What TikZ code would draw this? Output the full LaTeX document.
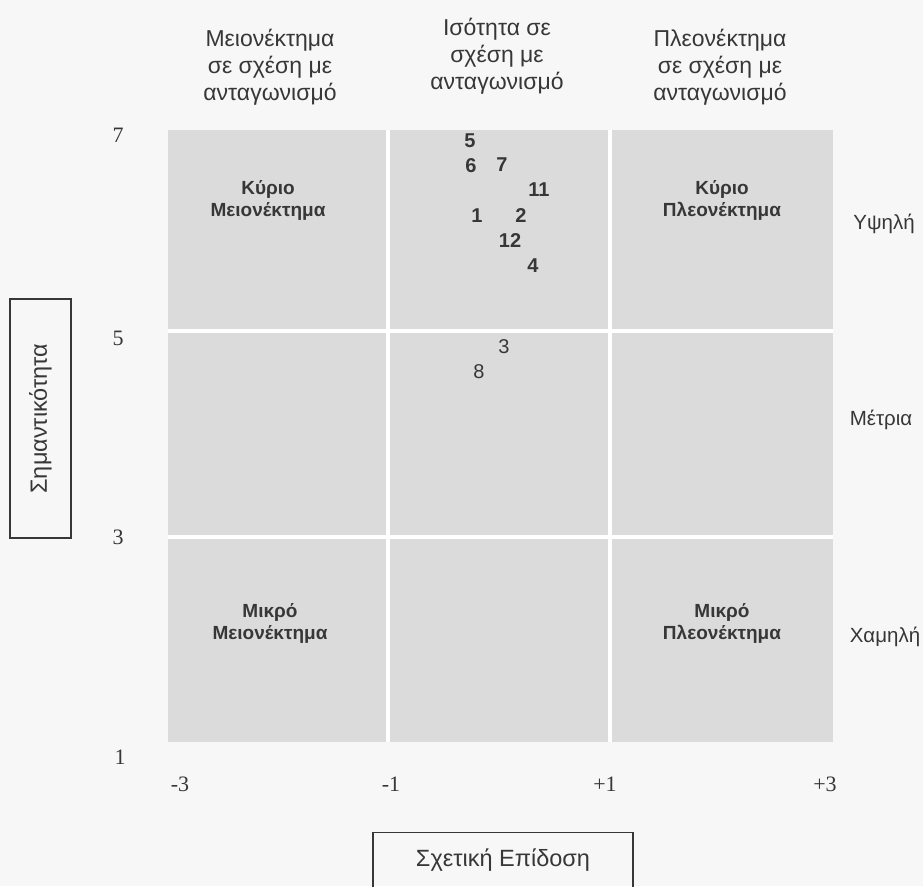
\documentclass[tikz,border=0pt]{standalone}
\usepackage{fontspec}
\setmainfont{Liberation Sans}
\newfontfamily\tickfont{Liberation Serif}
\usetikzlibrary{positioning}
\definecolor{cellgray}{RGB}{219,219,219}
\definecolor{inkgray}{RGB}{55,55,55}

\begin{document}
\begin{tikzpicture}[x=1pt,y=-1pt,
  every node/.style={text=inkgray,inner sep=0pt},
  head/.style={align=center,font=\fontsize{23}{27}\selectfont},
  zone/.style={align=center,font=\fontsize{19}{22}\selectfont\bfseries},
  level/.style={font=\fontsize{20.5}{25}\selectfont},
  tick/.style={font=\tickfont\fontsize{22}{26}\selectfont},
  item/.style={font=\fontsize{20}{22}\selectfont\bfseries},
  itemlight/.style={font=\fontsize{20}{22}\selectfont},
  axisbox/.style={draw=inkgray,line width=1.1pt,font=\fontsize{23.5}{26}\selectfont}
]
  \useasboundingbox[fill=black!3] (0,0) rectangle (923,886);

  % grid of the nine zones
  \fill[cellgray] (168,130) rectangle (833,742);
  \foreach \xl in {388,610}
    \draw[white,line width=4pt] (\xl,130) -- (\xl,742);
  \foreach \yl in {331,537}
    \draw[white,line width=4pt] (168,\yl) -- (833,\yl);

  % column heads
  \node[head] (hlow) at (270,67) {Μειονέκτημα\\σε σχέση με\\ανταγωνισμό};
  \node[head] (hmid) at (497,56) {Ισότητα σε\\σχέση με\\ανταγωνισμό};
  \node[head] (hhigh) at (720,67) {Πλεονέκτημα\\σε σχέση με\\ανταγωνισμό};

  % zone names
  \node[zone] (majdis) at (268,200) {Κύριο\\Μειονέκτημα};
  \node[zone] (majadv) at (722,200) {Κύριο\\Πλεονέκτημα};
  \node[zone] (mindis) at (270,623) {Μικρό\\Μειονέκτημα};
  \node[zone] (minadv) at (722,623) {Μικρό\\Πλεονέκτημα};

  % importance levels
  \node[level] (high) at (884,224) {Υψηλή};
  \node[level] (medium) at (881,420) {Μέτρια};
  \node[level] (low) at (885,637) {Χαμηλή};

  % scale ticks
  \node[tick] (y7) at (118,135) {7};
  \node[tick] (y5) at (118,338) {5};
  \node[tick] (y3) at (118,537) {3};
  \node[tick] (y1) at (120,757) {1};
  \node[tick] (xm3) at (180,784) {-3};
  \node[tick] (xm1) at (391,784) {-1};
  \node[tick] (xp1) at (605,784) {+1};
  \node[tick] (xp3) at (825,784) {+3};

  % rated items
  \node[item] (n5) at (470,141) {5};
  \node[item] (n6) at (471,166) {6};
  \node[item] (n7) at (502,165) {7};
  \node[item] (n11) at (539,190) {11};
  \node[item] (n1) at (477,216) {1};
  \node[item] (n2) at (521,216) {2};
  \node[item] (n12) at (510,241) {12};
  \node[item] (n4) at (533,266) {4};
  \node[itemlight] (n3) at (504,347) {3};
  \node[itemlight] (n8) at (479,372) {8};

  % axis titles
  \node[axisbox,rotate=90,minimum width=239pt,minimum height=61pt]
    (importance) at (40.5,418.5) {Σημαντικότητα};
  \node[axisbox,anchor=north,minimum width=260pt,minimum height=62pt,text depth=12pt]
    (performance) at (503,832) {Σχετική Επίδοση};
\end{tikzpicture}
\end{document}
